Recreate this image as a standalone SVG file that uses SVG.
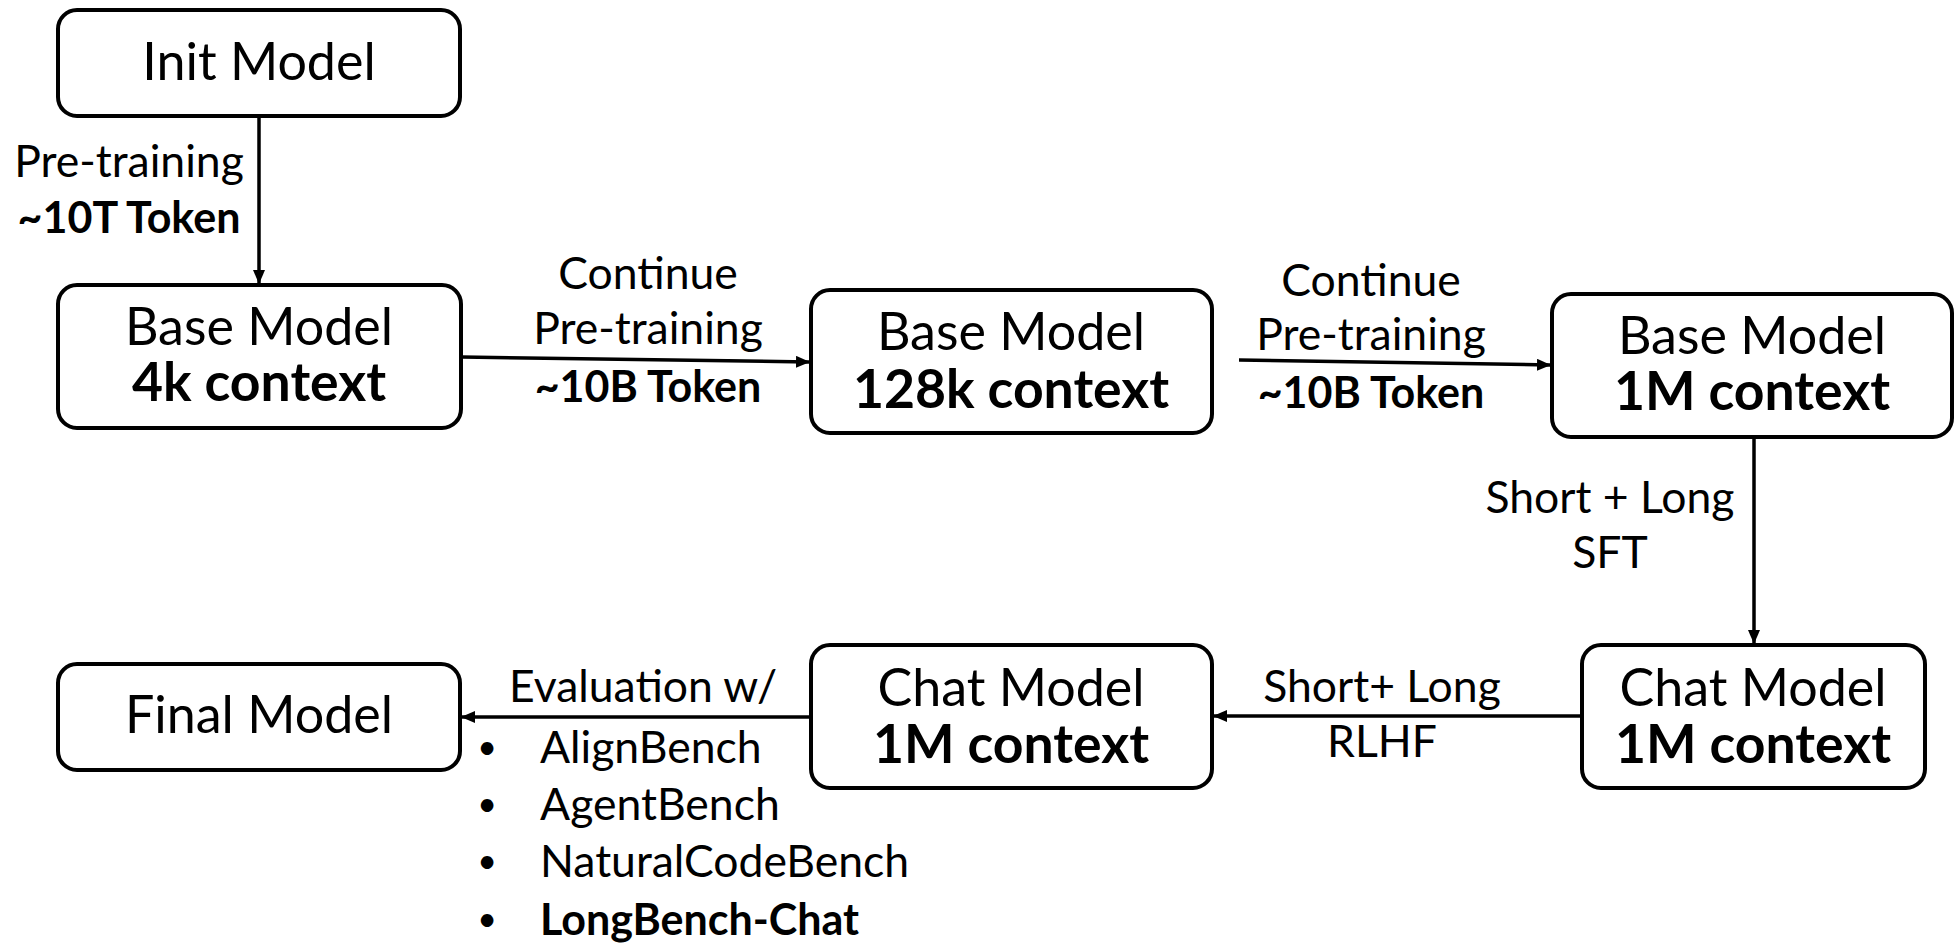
<svg xmlns="http://www.w3.org/2000/svg" width="1956" height="944" viewBox="0 0 1956 944">
<style>
.box{fill:#fff;stroke:#000;stroke-width:4}
.n{font-family:Lato,"Open Sans","Liberation Sans",sans-serif;font-size:52px;fill:#000;text-anchor:middle}
.nb{font-size:53.5px;font-weight:bold}
.b{font-weight:bold}
.e{font-family:Lato,"Open Sans","Liberation Sans",sans-serif;font-size:44.5px;fill:#000}
.e.b{font-size:43px}
.e.d{font-size:34px}
.m{text-anchor:middle}
.c{stroke:#000;stroke-width:3.5;fill:none;marker-end:url(#ah)}
</style>
<defs>
<marker id="ah" markerWidth="14" markerHeight="12" refX="13" refY="6" orient="auto" markerUnits="userSpaceOnUse">
<path d="M0,0 L14,6 L0,12 Z" fill="#000"/>
</marker>
</defs>
<rect width="1956" height="944" fill="#fff"/>
<g id="connectors">
<line class="c" x1="259" y1="118" x2="259" y2="283"/>
<line class="c" x1="462" y1="357" x2="809" y2="362"/>
<line class="c" x1="1239" y1="360" x2="1550" y2="365"/>
<line class="c" x1="1754" y1="439" x2="1754" y2="643"/>
<line class="c" x1="1580" y1="716" x2="1214" y2="716"/>
<line class="c" x1="809" y1="717" x2="462" y2="717"/>
<text class="e m" x="129" y="177">Pre-training</text>
<text class="e m b" x="129" y="233">~10T Token</text>
<text class="e m" x="648" y="289">Continue</text>
<text class="e m" x="648" y="344">Pre-training</text>
<text class="e m b" x="648" y="402">~10B Token</text>
<text class="e m" x="1371" y="296">Continue</text>
<text class="e m" x="1371" y="350">Pre-training</text>
<text class="e m b" x="1371" y="408">~10B Token</text>
<text class="e m" x="1610" y="513">Short + Long</text>
<text class="e m" x="1610" y="568">SFT</text>
<text class="e m" x="1382" y="702">Short+ Long</text>
<text class="e m" x="1382" y="757">RLHF</text>
<text class="e" x="509" y="702">Evaluation w/</text>
<text class="e m d" x="487" y="759">•</text>
<text class="e" x="540" y="763">AlignBench</text>
<text class="e m d" x="487" y="816">•</text>
<text class="e" x="540" y="820">AgentBench</text>
<text class="e m d" x="487" y="873">•</text>
<text class="e" x="540" y="877">NaturalCodeBench</text>
<text class="e m d" x="487" y="931">•</text>
<text class="e b" x="540" y="935">LongBench-Chat</text>
</g>
<g id="init">
<rect class="box" x="58" y="10" width="402" height="106" rx="19"/>
<text class="n" x="259" y="80">Init Model</text>
</g>
<g id="base4k">
<rect class="box" x="58" y="285" width="403" height="143" rx="19"/>
<text class="n" x="259" y="345">Base Model<tspan class="nb" x="259" y="401">4k context</tspan></text>
</g>
<g id="base128k">
<rect class="box" x="811" y="290" width="401" height="143" rx="19"/>
<text class="n" x="1011" y="350">Base Model<tspan class="nb" x="1011" y="408">128k context</tspan></text>
</g>
<g id="base1m">
<rect class="box" x="1552" y="294" width="400" height="143" rx="19"/>
<text class="n" x="1752" y="354">Base Model<tspan class="nb" x="1752" y="410">1M context</tspan></text>
</g>
<g id="chat1m_right">
<rect class="box" x="1582" y="645" width="343" height="143" rx="19"/>
<text class="n" x="1753" y="706">Chat Model<tspan class="nb" x="1753" y="763">1M context</tspan></text>
</g>
<g id="chat1m_mid">
<rect class="box" x="811" y="645" width="401" height="143" rx="19"/>
<text class="n" x="1011" y="706">Chat Model<tspan class="nb" x="1011" y="763">1M context</tspan></text>
</g>
<g id="final">
<rect class="box" x="58" y="664" width="402" height="106" rx="19"/>
<text class="n" x="259" y="733">Final Model</text>
</g>
</svg>
